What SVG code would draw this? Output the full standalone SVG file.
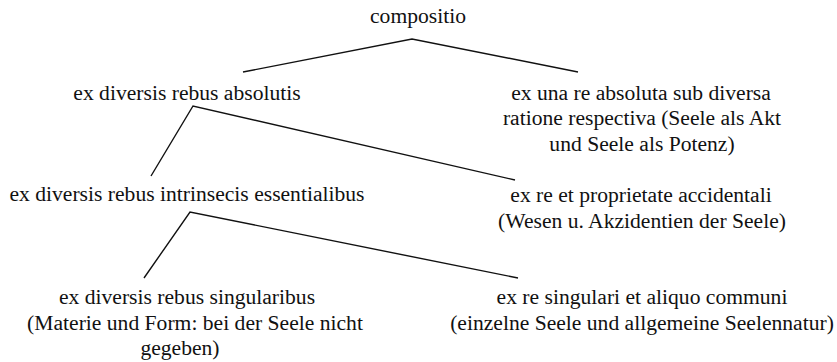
<svg xmlns="http://www.w3.org/2000/svg" width="837" height="362" viewBox="0 0 837 362">
<style>
text{font-family:"Liberation Serif","Times New Roman",serif;font-size:21.6px;fill:#111;text-anchor:middle}
.edge{stroke:#111;stroke-width:1.4;fill:none}
</style>
<rect width="837" height="362" fill="#fff"/>
<g id="connectors">
<polyline class="edge" points="243,72 412,39 578,72"/>
<polyline class="edge" points="151,176 193,106 515,180"/>
<polyline class="edge" points="144,278 190,212 518,278"/>
</g>
<g id="n-compositio"><text x="418" y="23">compositio</text></g>
<g id="n-absolutis"><text x="187" y="100">ex diversis rebus absolutis</text></g>
<g id="n-una-re">
<text x="641" y="100">ex una re absoluta sub diversa</text>
<text x="642" y="125">ratione respectiva (Seele als Akt</text>
<text x="642" y="151">und Seele als Potenz)</text>
</g>
<g id="n-intrinsecis"><text x="187" y="201">ex diversis rebus intrinsecis essentialibus</text></g>
<g id="n-accidentali">
<text x="641" y="202">ex re et proprietate accidentali</text>
<text x="642" y="228">(Wesen u. Akzidentien der Seele)</text>
</g>
<g id="n-singularibus">
<text x="187" y="304">ex diversis rebus singularibus</text>
<text x="195" y="330">(Materie und Form: bei der Seele nicht</text>
<text x="180" y="355">gegeben)</text>
</g>
<g id="n-communi">
<text x="642" y="304">ex re singulari et aliquo communi</text>
<text x="642" y="330">(einzelne Seele und allgemeine Seelennatur)</text>
</g>
</svg>
